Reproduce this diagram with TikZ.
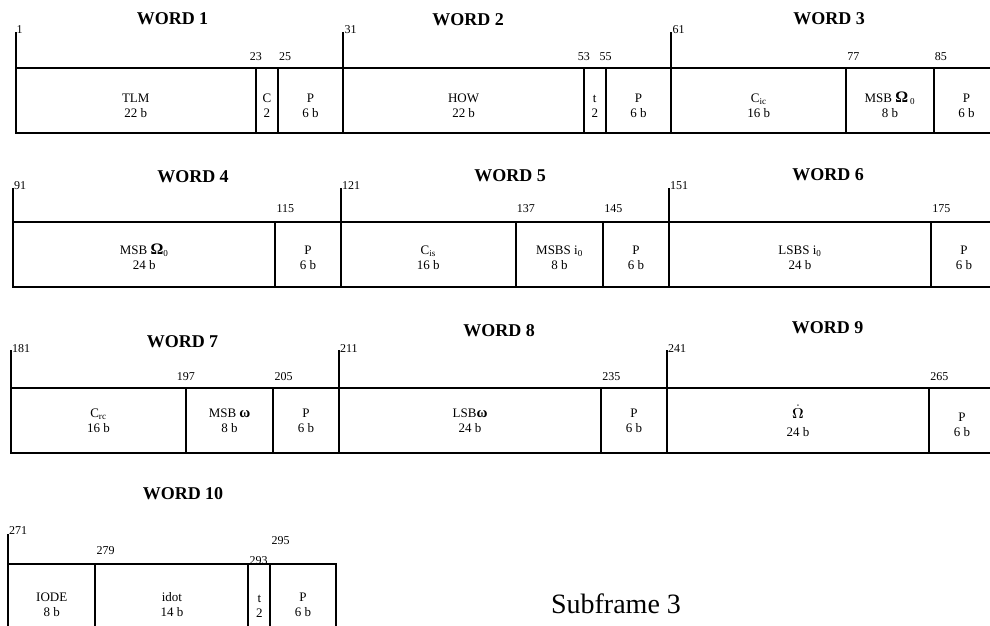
\documentclass[tikz,border=0pt]{standalone}
\usepackage[no-math]{fontspec}
\setmainfont{Liberation Serif}
\usetikzlibrary{positioning}

\begin{document}
\begin{tikzpicture}[x=1pt,y=-1pt]

    \tikzstyle{field}+=[
        draw,
        line width = 2pt,
        outer sep=0pt,
        inner sep=0pt,
        minimum height=65pt,
        align=center,
        font=\fontsize{13}{15}\selectfont
    ]
    \tikzset{bits/.style={minimum width=#1*10.93pt}}
    \tikzstyle{tickline}+=[
        line width = 2pt
    ]
    \tikzstyle{bitno}+=[
        inner sep=1pt,
        font=\fontsize{12}{14}\selectfont
    ]
    \tikzstyle{wordtitle}+=[
        font=\bfseries\fontsize{18}{20}\selectfont
    ]

    \path[use as bounding box,fill=white] (0,0) rectangle (990,626);

    % ----------------------------------------------------------------------------
    \coordinate(row1) at (15.5,68);
    \coordinate(row2) at (13,222);
    \coordinate(row3) at (11,388);
    \coordinate(row4) at (8,564);

    % ----------------------------------------------------------------------------
    \begin{scope}[every node/.append style={text height=34pt}]
    \node[field,bits=22,anchor=north west] (tlm) at (row1) {TLM\\22 b};
    \node[field,bits=2,right=0pt of tlm] (cfld) {C\\2};
    \node[field,bits=6,right=0pt of cfld] (par1) {P\\6 b};
    \node[field,bits=22,right=0pt of par1] (how) {HOW\\22 b};
    \node[field,bits=2,right=0pt of how] (tfld) {t\\2};
    \node[field,bits=6,right=0pt of tfld] (par2) {P\\6 b};
    \node[field,bits=16,right=0pt of par2] (cic) {C\textsubscript{ic}\\16 b};
    \node[field,bits=8,right=0pt of cic] (msbom) {MSB {\bfseries\fontsize{16}{15}\selectfont Ω}\,\textsubscript{0}\\8 b};
    \node[field,bits=6,right=0pt of msbom] (par3) {P\\6 b};
    \end{scope}

    % ----------------------------------------------------------------------------
    \begin{scope}[every node/.append style={text height=31pt}]
    \node[field,bits=24,anchor=north west] (msbomb) at (row2) {MSB {\bfseries\fontsize{16}{15}\selectfont Ω}\textsubscript{0}\\24 b};
    \node[field,bits=6,right=0pt of msbomb] (par4) {P\\6 b};
    \node[field,bits=16,right=0pt of par4] (cis) {C\textsubscript{is}\\16 b};
    \node[field,bits=8,right=0pt of cis] (msbsi) {MSBS i\textsubscript{0}\\8 b};
    \node[field,bits=6,right=0pt of msbsi] (par5) {P\\6 b};
    \node[field,bits=24,right=0pt of par5] (lsbsi) {LSBS i\textsubscript{0}\\24 b};
    \node[field,bits=6,right=0pt of lsbsi] (par6) {P\\6 b};
    \end{scope}

    % ----------------------------------------------------------------------------
    \node[field,bits=16,anchor=north west] (crc) at (row3) {C\textsubscript{rc}\\16 b};
    \node[field,bits=8,right=0pt of crc] (msbw) {MSB {\bfseries\fontsize{15}{15}\selectfont ω}\\8 b};
    \node[field,bits=6,right=0pt of msbw] (par7) {P\\6 b};
    \node[field,bits=24,right=0pt of par7] (lsbw) {LSB{\bfseries\fontsize{15}{15}\selectfont ω}\\24 b};
    \node[field,bits=6,right=0pt of lsbw] (par8) {P\\6 b};
    \node[field,bits=24,right=0pt of par8] (omdot) {\Large$\dot{\mathbf{\Omega}}$\\[3pt]24 b};
    \node[field,bits=6,right=0pt of omdot,text height=32pt] (par9) {P\\6 b};

    % ----------------------------------------------------------------------------
    \begin{scope}[every node/.append style={text height=41pt}]
    \node[field,bits=8,anchor=north west] (iode) at (row4) {IODE\\8 b};
    \node[field,bits=14,right=0pt of iode] (idot) {idot\\14 b};
    \node[field,bits=2,right=0pt of idot] (tfld2) {t\\2};
    \node[field,bits=6,right=0pt of tfld2] (par10) {P\\6 b};
    \end{scope}

    % ----------------------------------------------------------------------------
    \coordinate (k1) at ([yshift=36pt]tlm.north west);
    \coordinate (k2) at ([yshift=36pt]how.north west);
    \coordinate (k3) at ([yshift=36pt]cic.north west);
    \coordinate (k4) at ([yshift=34pt]msbomb.north west);
    \coordinate (k5) at ([yshift=34pt]cis.north west);
    \coordinate (k6) at ([yshift=34pt]lsbsi.north west);
    \coordinate (k7) at ([yshift=38pt]crc.north west);
    \coordinate (k8) at ([yshift=38pt]lsbw.north west);
    \coordinate (k9) at ([yshift=38pt]omdot.north west);
    \coordinate (k10) at ([yshift=30pt]iode.north west);
    \draw[tickline] (tlm.north west) -- (k1);
    \draw[tickline] (how.north west) -- (k2);
    \draw[tickline] (cic.north west) -- (k3);
    \draw[tickline] (msbomb.north west) -- (k4);
    \draw[tickline] (cis.north west) -- (k5);
    \draw[tickline] (lsbsi.north west) -- (k6);
    \draw[tickline] (crc.north west) -- (k7);
    \draw[tickline] (lsbw.north west) -- (k8);
    \draw[tickline] (omdot.north west) -- (k9);
    \draw[tickline] (iode.north west) -- (k10);

    % ----------------------------------------------------------------------------
    \node[bitno,anchor=west] (n1) at ([yshift=2pt]k1) {1};
    \node[bitno,anchor=west] (n31) at ([yshift=2pt]k2) {31};
    \node[bitno,anchor=west] (n61) at ([yshift=2pt]k3) {61};
    \node[bitno,anchor=west] (n91) at ([yshift=2pt]k4) {91};
    \node[bitno,anchor=west] (n121) at ([yshift=2pt]k5) {121};
    \node[bitno,anchor=west] (n151) at ([yshift=2pt]k6) {151};
    \node[bitno,anchor=west] (n181) at ([yshift=1pt]k7) {181};
    \node[bitno,anchor=west] (n211) at ([yshift=1pt]k8) {211};
    \node[bitno,anchor=west] (n241) at ([yshift=1pt]k9) {241};
    \node[bitno,anchor=west] (n271) at ([yshift=3pt]k10) {271};

    % ----------------------------------------------------------------------------
    \node[bitno,anchor=south] (n23) at ([yshift=6pt]cfld.north west) {23};
    \node[bitno,anchor=south west] (n25) at ([yshift=6pt]par1.north west) {25};
    \node[bitno,anchor=south] (n53) at ([yshift=6pt]tfld.north west) {53};
    \node[bitno,anchor=south] (n55) at ([yshift=6pt]par2.north west) {55};
    \node[bitno,anchor=south west] (n77) at ([yshift=6pt]msbom.north west) {77};
    \node[bitno,anchor=south west] (n85) at ([yshift=6pt]par3.north west) {85};
    \node[bitno,anchor=south west] (n115) at ([yshift=8pt]par4.north west) {115};
    \node[bitno,anchor=south west] (n137) at ([yshift=8pt]msbsi.north west) {137};
    \node[bitno,anchor=south west] (n145) at ([yshift=8pt]par5.north west) {145};
    \node[bitno,anchor=south west] (n175) at ([yshift=8pt]par6.north west) {175};
    \node[bitno,anchor=south] (n197) at ([yshift=6pt]msbw.north west) {197};
    \node[bitno,anchor=south west] (n205) at ([yshift=6pt]par7.north west) {205};
    \node[bitno,anchor=south west] (n235) at ([yshift=6pt]par8.north west) {235};
    \node[bitno,anchor=south west] (n265) at ([yshift=6pt]par9.north west) {265};
    \node[bitno,anchor=south west] (n279) at ([yshift=8pt]idot.north west) {279};
    \node[bitno,anchor=south west] (n293) at ([yshift=-2pt]tfld2.north west) {293};
    \node[bitno,anchor=south west] (n295) at ([yshift=18pt]par10.north west) {295};

    % ----------------------------------------------------------------------------
    \node[wordtitle] (wt1) at ([shift=(row1)]157,-49) {WORD 1};
    \node[wordtitle] (wt2) at ([shift=(row1)]452.5,-48) {WORD 2};
    \node[wordtitle] (wt3) at ([shift=(row1)]813.5,-49) {WORD 3};
    \node[wordtitle] (wt4) at ([shift=(row2)]180,-45.5) {WORD 4};
    \node[wordtitle] (wt5) at ([shift=(row2)]497,-46) {WORD 5};
    \node[wordtitle] (wt6) at ([shift=(row2)]815,-47) {WORD 6};
    \node[wordtitle] (wt7) at ([shift=(row3)]171.5,-46.5) {WORD 7};
    \node[wordtitle] (wt8) at ([shift=(row3)]488,-57) {WORD 8};
    \node[wordtitle] (wt9) at ([shift=(row3)]816.5,-60) {WORD 9};
    \node[wordtitle] (wt10) at ([shift=(row4)]175,-70.5) {WORD 10};
    \node[font=\fontsize{28}{30}\selectfont] (sub) at ([shift=(row4)]608,40) {Subframe 3};

\end{tikzpicture}
\end{document}
